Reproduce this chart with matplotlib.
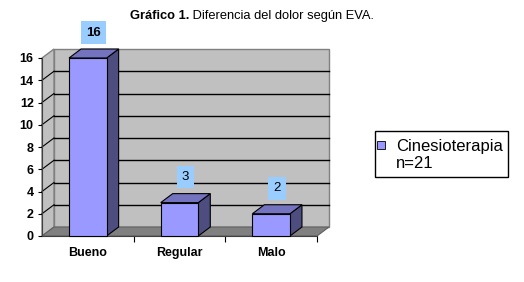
import matplotlib
matplotlib.use("Agg")
import matplotlib.pyplot as plt
from matplotlib.patches import Polygon, Rectangle
from matplotlib.lines import Line2D

plt.rcParams["font.family"] = ["Liberation Sans", "DejaVu Sans"]

# chart data
categories = ["Bueno", "Regular", "Malo"]
values = [16, 3, 2]
series_label = "Cinesioterapia\nn=21"
y_ticks = list(range(0, 17, 2))
title_bold = "Gráfico 1."
title_rest = " Diferencia del dolor según EVA."

W, H = 524, 282
FRONT = "#9999FF"
TOP = "#7373BF"
SIDE = "#4D4D80"
WALL = "#C0C0C0"
FLOOR = "#808080"
LABEL_BOX = "#99CCFF"

fig = plt.figure(figsize=(W / 100, H / 100), dpi=100)
fig.patch.set_facecolor("white")

# front plane of the plot area, in pixels
left_px, right_px, base_px, top_px = 42, 317, 236, 58
ax = fig.add_axes([left_px / W, (H - base_px) / H,
                   (right_px - left_px) / W, (base_px - top_px) / H])
ax.patch.set_visible(False)

n = len(categories)
xmin, xmax = -0.5, n - 0.5
ymax = y_ticks[-1]
ax.set_xlim(xmin, xmax)
ax.set_ylim(0, ymax)

# depth offset in data units (12 px right, 9 px up)
px_x = (right_px - left_px) / (xmax - xmin)
px_y = (base_px - top_px) / ymax
ddx, ddy = 12 / px_x, 9 / px_y

# walls and floor
ax.add_patch(Rectangle((xmin + ddx, ddy), xmax - xmin, ymax, facecolor=WALL,
                       edgecolor="#808080", lw=1, clip_on=False, zorder=0))
ax.add_patch(Polygon([(xmin, 0), (xmin, ymax), (xmin + ddx, ymax + ddy), (xmin + ddx, ddy)],
                     closed=True, facecolor=WALL, edgecolor="#808080", lw=1,
                     clip_on=False, zorder=0))
ax.add_patch(Polygon([(xmin, 0), (xmax, 0), (xmax + ddx, ddy), (xmin + ddx, ddy)],
                     closed=True, facecolor=FLOOR, edgecolor="#606060", lw=0.8,
                     clip_on=False, zorder=1))

for v in y_ticks[1:-1]:
    ax.add_line(Line2D([xmin + ddx, xmax + ddx], [v + ddy, v + ddy], color="black",
                       lw=1, clip_on=False, zorder=1))
    ax.add_line(Line2D([xmin, xmin + ddx], [v, v + ddy], color="black",
                       lw=0.8, clip_on=False, zorder=1))

# 3D bars
bw = 0.41
for i, h in enumerate(values):
    x0, x1 = i - bw / 2, i + bw / 2
    ax.add_patch(Polygon([(x1, 0), (x1, h), (x1 + ddx, h + ddy), (x1 + ddx, ddy)],
                         closed=True, facecolor=SIDE, edgecolor="black", lw=0.8,
                         clip_on=False, zorder=3))
    ax.add_patch(Polygon([(x0, h), (x1, h), (x1 + ddx, h + ddy), (x0 + ddx, h + ddy)],
                         closed=True, facecolor=TOP, edgecolor="black", lw=0.8,
                         clip_on=False, zorder=3))
    ax.bar(i, h, width=bw, color=FRONT, edgecolor="black", lw=0.8, zorder=4,
           clip_on=False)
    ax.annotate(f"{h}", xy=(i + ddx / 2, h + ddy / 2), xytext=(0, 21),
                textcoords="offset pixels", ha="center", va="center",
                fontsize=9.5, fontweight="bold" if h >= 10 else "normal",
                bbox=dict(boxstyle="square,pad=0.4", facecolor=LABEL_BOX,
                          edgecolor="none"),
                zorder=6, annotation_clip=False)

# axes
for s in ["top", "right"]:
    ax.spines[s].set_visible(False)
ax.spines["left"].set_color("#404040")
ax.spines["bottom"].set_color("#404040")
ax.spines["left"].set_zorder(2)
ax.spines["bottom"].set_zorder(2)

ax.set_yticks(y_ticks)
ax.set_yticklabels([str(t) for t in y_ticks], fontweight="bold", fontsize=9)
ax.tick_params(axis="y", length=3, pad=3, width=0.8)

ax.set_xticks([b + 0.5 for b in range(n)])
ax.set_xticklabels([])
ax.set_xticks(range(n), minor=True)
ax.set_xticklabels(categories, minor=True, fontweight="bold", fontsize=9)
ax.tick_params(axis="x", which="major", length=4, width=0.8)
ax.tick_params(axis="x", which="minor", length=0, pad=8)

# legend
fig.patches.append(Rectangle((375 / W, 1 - 177 / H), 133 / W, 46 / H,
                             transform=fig.transFigure, facecolor="white",
                             edgecolor="black", lw=1))
fig.patches.append(Rectangle((377 / W, 1 - 149 / H), 8 / W, 8 / H,
                             transform=fig.transFigure, facecolor=FRONT,
                             edgecolor="black", lw=0.6))
fig.text(396 / W, 1 - 155 / H, series_label, fontsize=12, ha="left", va="center",
         linespacing=1.1)

# title: bold part followed by regular part
t1 = fig.text(130 / W, 1 - 16 / H, title_bold, fontsize=9.3, fontweight="bold",
              ha="left", va="center")
fig.canvas.draw()
bb = t1.get_window_extent(fig.canvas.get_renderer())
fig.text(bb.x1 / W, 1 - 16 / H, title_rest, fontsize=9.3,
         ha="left", va="center")

fig.savefig("out.png", dpi=100)
